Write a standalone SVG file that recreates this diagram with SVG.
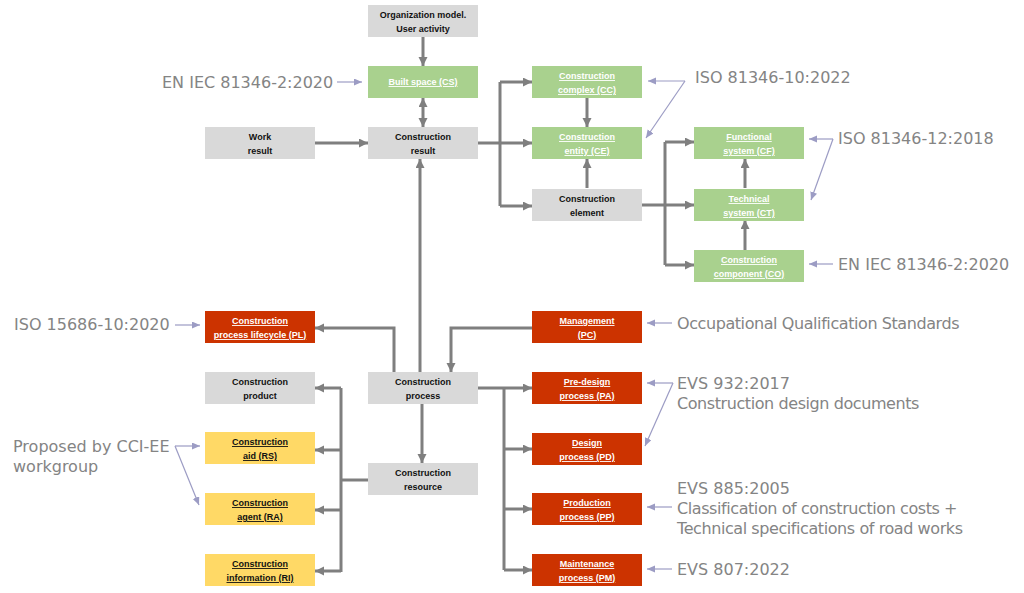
<svg xmlns="http://www.w3.org/2000/svg" width="1024" height="593" viewBox="0 0 1024 593">
<style>
.g{fill:#d9d9d9}
.gr{fill:#a9d18e}
.r{fill:#cc3300}
.y{fill:#ffd966}
.t{font-family:"Liberation Sans",Arial,sans-serif;font-size:9px;font-weight:bold;text-anchor:middle}
.tb{fill:#111}
.tw{fill:#fff;text-decoration:underline}
.tk{fill:#111;text-decoration:underline}
.c{fill:none;stroke:#7f7f7f;stroke-width:3}
.n{fill:none;stroke:#9c9cc4;stroke-width:1.2}
.a{font-family:"DejaVu Sans",Verdana,sans-serif;font-size:16px;fill:#848484}
.w{letter-spacing:-0.42px}
</style>
<defs>
<marker id="m" markerUnits="userSpaceOnUse" markerWidth="10" markerHeight="10" refX="9" refY="4.5" orient="auto-start-reverse"><path d="M0,0 L9,4.5 L0,9 z" fill="#7f7f7f"/></marker>
<marker id="s" markerUnits="userSpaceOnUse" markerWidth="9" markerHeight="8" refX="8" refY="3.5" orient="auto"><path d="M0,0 L8,3.5 L0,7 z" fill="#9c9cc4"/></marker>
</defs>
<rect width="1024" height="593" fill="#fff"/>

<g id="connectors">
<path class="c" d="M423,37 V66" marker-end="url(#m)"/>
<path class="c" d="M423,98 V127" marker-start="url(#m)" marker-end="url(#m)"/>
<path class="c" d="M315,143 H368" marker-end="url(#m)"/>
<path class="c" d="M420,372 V159" marker-end="url(#m)"/>
<path class="c" d="M478,143 H532" marker-end="url(#m)"/>
<path class="c" d="M500,82 V206"/>
<path class="c" d="M500,82 H532" marker-end="url(#m)"/>
<path class="c" d="M500,206 H532" marker-end="url(#m)"/>
<path class="c" d="M587,97 V127" marker-end="url(#m)"/>
<path class="c" d="M587,188 V159" marker-end="url(#m)"/>
<path class="c" d="M642,205 H694" marker-end="url(#m)"/>
<path class="c" d="M665,142 V265"/>
<path class="c" d="M665,142 H694" marker-end="url(#m)"/>
<path class="c" d="M665,265 H694" marker-end="url(#m)"/>
<path class="c" d="M745,188 V159" marker-end="url(#m)"/>
<path class="c" d="M745,250 V220" marker-end="url(#m)"/>
<path class="c" d="M394,372 V328 H315" marker-end="url(#m)"/>
<path class="c" d="M532,328 H451 V372" marker-end="url(#m)"/>
<path class="c" d="M478,388 H532" marker-end="url(#m)"/>
<path class="c" d="M504,388 V570"/>
<path class="c" d="M504,449 H532" marker-end="url(#m)"/>
<path class="c" d="M504,509 H532" marker-end="url(#m)"/>
<path class="c" d="M504,570 H532" marker-end="url(#m)"/>
<path class="c" d="M422,403 V463" marker-end="url(#m)"/>
<path class="c" d="M368,480 H341"/>
<path class="c" d="M341,388 V572"/>
<path class="c" d="M341,388 H315" marker-end="url(#m)"/>
<path class="c" d="M341,450 H315" marker-end="url(#m)"/>
<path class="c" d="M341,510 H315" marker-end="url(#m)"/>
<path class="c" d="M341,571 H315" marker-end="url(#m)"/>
</g>

<g id="annotation-arrows">
<path class="n" d="M337,82 H362" marker-end="url(#s)"/>
<path class="n" d="M685,81 H648" marker-end="url(#s)"/>
<path class="n" d="M685,81 L646,138" marker-end="url(#s)"/>
<path class="n" d="M833,139 H809" marker-end="url(#s)"/>
<path class="n" d="M833,139 L811,200" marker-end="url(#s)"/>
<path class="n" d="M833,264 H809" marker-end="url(#s)"/>
<path class="n" d="M175,325 H200" marker-end="url(#s)"/>
<path class="n" d="M672,323 H647" marker-end="url(#s)"/>
<path class="n" d="M673,383 H647" marker-end="url(#s)"/>
<path class="n" d="M673,383 L645,446" marker-end="url(#s)"/>
<path class="n" d="M175,446 H200" marker-end="url(#s)"/>
<path class="n" d="M175,446 L199,505" marker-end="url(#s)"/>
<path class="n" d="M672,507 H647" marker-end="url(#s)"/>
<path class="n" d="M672,569 H647" marker-end="url(#s)"/>
</g>

<g id="org"><rect class="g" x="368" y="5" width="110" height="32"/><text class="t tb" x="423" y="18">Organization model.</text><text class="t tb" x="423" y="32">User activity</text></g>
<g id="cs"><rect class="gr" x="368" y="66" width="110" height="32"/><text class="t tw" x="423" y="85">Built space (CS)</text></g>
<g id="work"><rect class="g" x="205" y="127" width="110" height="32"/><text class="t tb" x="260" y="140">Work</text><text class="t tb" x="260" y="154">result</text></g>
<g id="cresult"><rect class="g" x="368" y="127" width="110" height="32"/><text class="t tb" x="423" y="140">Construction</text><text class="t tb" x="423" y="154">result</text></g>
<g id="cc"><rect class="gr" x="532" y="66" width="110" height="32"/><text class="t tw" x="587" y="79">Construction</text><text class="t tw" x="587" y="93">complex (CC)</text></g>
<g id="ce"><rect class="gr" x="532" y="127" width="110" height="32"/><text class="t tw" x="587" y="140">Construction</text><text class="t tw" x="587" y="154">entity (CE)</text></g>
<g id="element"><rect class="g" x="532" y="189" width="110" height="32"/><text class="t tb" x="587" y="202">Construction</text><text class="t tb" x="587" y="216">element</text></g>
<g id="cf"><rect class="gr" x="694" y="127" width="110" height="32"/><text class="t tw" x="749" y="140">Functional</text><text class="t tw" x="749" y="154">system (CF)</text></g>
<g id="ct"><rect class="gr" x="694" y="189" width="110" height="32"/><text class="t tw" x="749" y="202">Technical</text><text class="t tw" x="749" y="216">system (CT)</text></g>
<g id="co"><rect class="gr" x="694" y="250" width="110" height="32"/><text class="t tw" x="749" y="263">Construction</text><text class="t tw" x="749" y="277">component (CO)</text></g>
<g id="pl"><rect class="r" x="205" y="311" width="110" height="32"/><text class="t tw" x="260" y="324">Construction</text><text class="t tw" x="260" y="338">process lifecycle (PL)</text></g>
<g id="product"><rect class="g" x="205" y="372" width="110" height="32"/><text class="t tb" x="260" y="385">Construction</text><text class="t tb" x="260" y="399">product</text></g>
<g id="process"><rect class="g" x="368" y="372" width="110" height="32"/><text class="t tb" x="423" y="385">Construction</text><text class="t tb" x="423" y="399">process</text></g>
<g id="rs"><rect class="y" x="205" y="432" width="110" height="32"/><text class="t tk" x="260" y="445">Construction</text><text class="t tk" x="260" y="459">aid (RS)</text></g>
<g id="resource"><rect class="g" x="368" y="463" width="110" height="32"/><text class="t tb" x="423" y="476">Construction</text><text class="t tb" x="423" y="490">resource</text></g>
<g id="ra"><rect class="y" x="205" y="493" width="110" height="32"/><text class="t tk" x="260" y="506">Construction</text><text class="t tk" x="260" y="520">agent (RA)</text></g>
<g id="ri"><rect class="y" x="205" y="554" width="110" height="32"/><text class="t tk" x="260" y="567">Construction</text><text class="t tk" x="260" y="581">information (RI)</text></g>
<g id="pc"><rect class="r" x="532" y="311" width="110" height="32"/><text class="t tw" x="587" y="324">Management</text><text class="t tw" x="587" y="338">(PC)</text></g>
<g id="pa"><rect class="r" x="532" y="372" width="110" height="32"/><text class="t tw" x="587" y="385">Pre-design</text><text class="t tw" x="587" y="399">process (PA)</text></g>
<g id="pd"><rect class="r" x="532" y="433" width="110" height="32"/><text class="t tw" x="587" y="446">Design</text><text class="t tw" x="587" y="460">process (PD)</text></g>
<g id="pp"><rect class="r" x="532" y="493" width="110" height="32"/><text class="t tw" x="587" y="506">Production</text><text class="t tw" x="587" y="520">process (PP)</text></g>
<g id="pm"><rect class="r" x="532" y="554" width="110" height="32"/><text class="t tw" x="587" y="567">Maintenance</text><text class="t tw" x="587" y="581">process (PM)</text></g>

<g id="annotations">
<text class="a" x="162" y="88">EN IEC 81346-2:2020</text>
<text class="a" x="695" y="83">ISO 81346-10:2022</text>
<text class="a" x="838" y="144">ISO 81346-12:2018</text>
<text class="a" x="838" y="270">EN IEC 81346-2:2020</text>
<text class="a" x="14" y="330">ISO 15686-10:2020</text>
<text class="a w" x="677" y="329">Occupational Qualification Standards</text>
<text class="a" x="677" y="389">EVS 932:2017</text>
<text class="a w" x="677" y="409">Construction design documents</text>
<text class="a" x="13" y="452">Proposed by CCI-EE</text>
<text class="a" x="13" y="472">workgroup</text>
<text class="a" x="677" y="494">EVS 885:2005</text>
<text class="a w" x="677" y="514">Classification of construction costs +</text>
<text class="a w" x="677" y="534">Technical specifications of road works</text>
<text class="a" x="677" y="575">EVS 807:2022</text>
</g>
</svg>
